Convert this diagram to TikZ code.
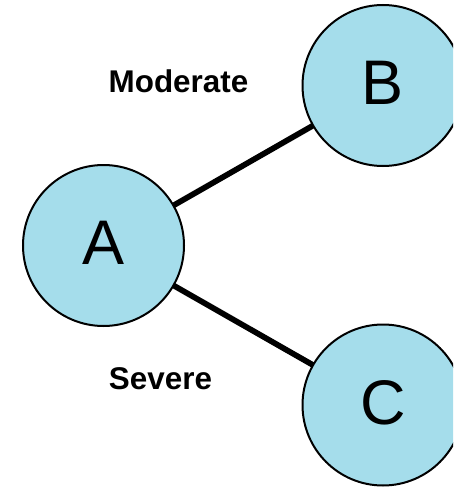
\documentclass[tikz,border=0pt]{standalone}
\usepackage{fontspec}
\setmainfont{Liberation Sans}
\definecolor{nodeblue}{RGB}{165,221,235}
\begin{document}
\begin{tikzpicture}[x=1pt,y=-1pt,
  vertex/.style={circle,draw=black,line width=2pt,fill=nodeblue,minimum size=161pt,inner sep=0pt,outer sep=0pt,font=\fontsize{63}{63}\selectfont,text height=45.1pt,text depth=7pt},
  edgelabel/.style={font=\fontsize{31.4}{32}\selectfont\bfseries,anchor=base,inner sep=0pt},
  link/.style={line width=5.7pt}]
\useasboundingbox (0,0) rectangle (453,487);
\clip (0,0) rectangle (453,487);
\node[vertex] (A) at (103.5,245.5) {A};
\node[vertex] (B) at (383,85.5) {B};
\node[vertex] (C) at (383,405) {C};
\draw[link] (A) -- (B);
\draw[link] (A) -- (C);
\node[edgelabel] (lm) at (178.5,92.5) {Moderate};
\node[edgelabel] (ls) at (160.5,389.5) {Severe};
\end{tikzpicture}
\end{document}
